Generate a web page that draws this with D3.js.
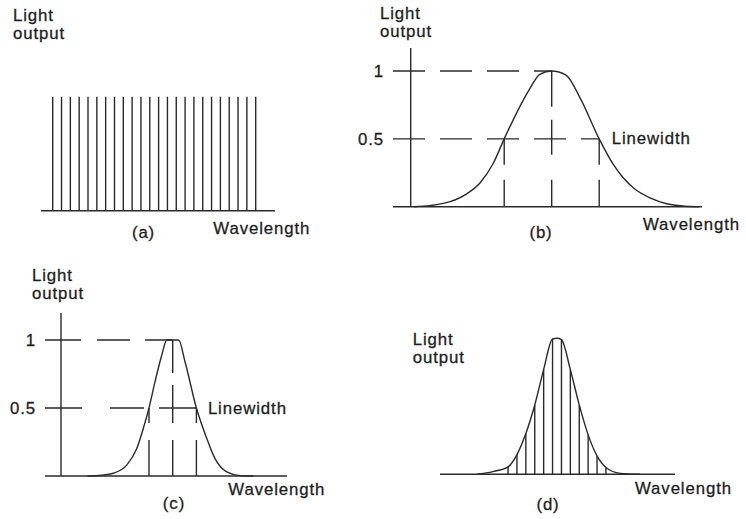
<!DOCTYPE html>
<html>
<head>
<meta charset="utf-8">
<script src="https://cdn.jsdelivr.net/npm/d3@7"></script>
<style>
  html, body { margin: 0; padding: 0; background: #fff; }
  svg { display: block; }
  text { font-family: "Liberation Sans", Arial, Helvetica, sans-serif; font-size: 16.8px; letter-spacing: 0.9px; fill: #1e1e1e; stroke: #1e1e1e; stroke-width: 0.3px; }
  .ink { stroke: #2a2a2a; stroke-width: 1.4; fill: none; }
</style>
</head>
<body>
<svg id="chart" width="746" height="519"></svg>
<script>
// (a) multimode spectrum: mode index and relative output of each mode
const modesA = [0, 1, 2, 3, 4, 5, 6, 7, 8, 9, 10, 11, 12, 13, 14, 15, 16, 17, 18, 19, 20, 21, 22, 23];
const outputA = [1, 1, 1, 1, 1, 1, 1, 1, 1, 1, 1, 1, 1, 1, 1, 1, 1, 1, 1, 1, 1, 1, 1, 1];

// (b) broad line profile; wavelength in half-linewidth units from line centre
const wavelengthB = [-2.9, -2.56, -2.14, -1.79, -1.51, -1.23, -1.0, -0.74, -0.46, -0.25, 0, 0.3, 0.6, 1.0, 1.29, 1.5, 1.75, 2.07, 2.42, 2.75, 3.1];
const outputB =     [0, 0.008, 0.037, 0.095, 0.175, 0.32, 0.5, 0.69, 0.87, 0.975, 1, 0.97, 0.8, 0.5, 0.315, 0.215, 0.13, 0.065, 0.022, 0.005, 0];

// (c) narrower, flat-topped line profile
const wavelengthC = [-3.6, -3.0, -2.51, -1.94, -1.52, -1.24, -1.0, -0.75, -0.46, -0.25, 0, 0.25, 0.52, 1.0, 1.43, 1.78, 2.28, 2.84, 3.4];
const outputC =     [0, 0.006, 0.02, 0.08, 0.2, 0.35, 0.5, 0.69, 0.89, 1, 1, 1, 0.84, 0.5, 0.28, 0.13, 0.03, 0.003, 0];

// (d) modes under a gain envelope: mode positions and heights
const modesD = [-5.5, -4.5, -3.5, -2.5, -1.5, -0.5, 0.5, 1.5, 2.5, 3.5, 4.5, 5.5];
const outputD = [0.055, 0.145, 0.3, 0.51, 0.77, 0.995, 0.99, 0.77, 0.51, 0.29, 0.135, 0.05];
// envelope tails beyond the outermost modes
const tailD = [[-9.0, 0], [-7.2, 0.02], [0, 1.0], [7.1, 0.007], [9.3, 0]];

// reference levels marked on (b) and (c)
const yTicks = [1, 0.5];
const halfMax = 0.5;
const halfPoints = [-1, 1];

const svg = d3.select("#chart");

function addText(g, x, y, str, anchor, baseline) {
  const t = g.append("text").attr("x", x).attr("y", y).text(str);
  if (anchor) t.attr("text-anchor", anchor);
  if (baseline) t.attr("dominant-baseline", baseline);
  return t;
}

function ylabel(g, x, y) {
  addText(g, x, y, "Light");
  addText(g, x, y + 18, "output");
}

const line = d3.line().curve(d3.curveMonotoneX);

// ---------- (a) ----------
{
  const g = svg.append("g");
  const x = d3.scaleLinear().domain([0, 23]).range([52.7, 255.7]);
  const y = d3.scaleLinear().domain([0, 1]).range([210.7, 96.7]);
  g.append("line").attr("class", "ink").attr("x1", 41).attr("x2", 275).attr("y1", y(0)).attr("y2", y(0));
  g.selectAll(".mode").data(modesA).join("line").attr("class", "ink mode")
    .attr("x1", d => x(d)).attr("x2", d => x(d))
    .attr("y1", y(0)).attr("y2", (d, i) => y(outputA[i]));
  ylabel(g, 13, 21);
  addText(g, 213.3, 233.7, "Wavelength");
  addText(g, 143.5, 238, "(a)", "middle");
}

// ---------- (b) and (c) ----------
function profilePanel(cfg) {
  const g = svg.append("g");
  const x = d3.scaleLinear().domain([-1, 1]).range([cfg.center - cfg.unit, cfg.center + cfg.unit]);
  const y = d3.scaleLinear().domain([0, 1]).range([cfg.baseY, cfg.topY]);

  // axes
  g.append("line").attr("class", "ink").attr("x1", cfg.axisX).attr("x2", cfg.axisX).attr("y1", cfg.axisTop).attr("y2", y(0));
  g.append("line").attr("class", "ink").attr("x1", cfg.tickX).attr("x2", cfg.baseEnd).attr("y1", y(0)).attr("y2", y(0));

  // dashed guides: peak level, half-maximum level, centre and half-width drops
  g.append("line").attr("class", "ink").attr("stroke-dasharray", cfg.dashTop)
    .attr("x1", cfg.tickX).attr("x2", x(0)).attr("y1", y(1)).attr("y2", y(1));
  g.append("line").attr("class", "ink").attr("stroke-dasharray", cfg.dashHalf)
    .attr("x1", cfg.tickX).attr("x2", x(halfPoints[1])).attr("y1", y(halfMax)).attr("y2", y(halfMax));
  g.append("line").attr("class", "ink").attr("stroke-dasharray", cfg.dashCenter)
    .attr("x1", x(0)).attr("x2", x(0)).attr("y1", y(0)).attr("y2", y(1));
  g.selectAll(".hw").data(halfPoints).join("line").attr("class", "ink hw")
    .attr("stroke-dasharray", cfg.dashSide)
    .attr("x1", d => x(d)).attr("x2", d => x(d)).attr("y1", y(0)).attr("y2", y(halfMax));

  // line profile
  const pts = cfg.wl.map((w, i) => [x(w), y(cfg.out[i])]);
  g.append("path").attr("class", "ink").attr("d", line(pts));

  // level labels
  const ax = g.append("g").attr("transform", `translate(${cfg.tickX},0)`)
    .call(d3.axisLeft(y).tickValues(yTicks).tickFormat(d3.format("")).tickSize(0).tickPadding(9));
  ax.select(".domain").remove();
  ax.selectAll("text").attr("font-family", null).attr("font-size", null).attr("fill", null);

  ylabel(g, cfg.labelX, cfg.labelY);
  addText(g, x(halfPoints[1]) + cfg.lwDx, y(halfMax), "Linewidth", null, "central");
  addText(g, cfg.wavX, cfg.wavY, "Wavelength");
  addText(g, cfg.capX, cfg.capY, cfg.cap, "middle");
}

profilePanel({
  wl: wavelengthB, out: outputB,
  center: 551.7, unit: 47.5, baseY: 206.7, topY: 71,
  axisX: 410.7, axisTop: 48, tickX: 393, baseEnd: 702,
  dashTop: "32 15", dashHalf: "32 15", dashCenter: "27 25 35 13 60", dashSide: "27 15 40",
  labelX: 380, labelY: 19, lwDx: 12.5,
  wavX: 643, wavY: 230, capX: 541, capY: 238, cap: "(b)"
});

profilePanel({
  wl: wavelengthC, out: outputC,
  center: 172.7, unit: 23.7, baseY: 476, topY: 340,
  axisX: 61, axisTop: 313, tickX: 45, baseEnd: 287,
  dashTop: "36 16 33 15 40", dashHalf: "37 28 34 15 40", dashCenter: "36 17 38 12 40", dashSide: "36 17 38",
  labelX: 32, labelY: 281, lwDx: 11.5,
  wavX: 228.3, wavY: 495, capX: 174, capY: 509, cap: "(c)"
});

// ---------- (d) ----------
{
  const g = svg.append("g");
  const x = d3.scaleLinear().domain([-1, 1]).range([557 - 8.9, 557 + 8.9]);
  const y = d3.scaleLinear().domain([0, 1]).range([474.3, 338.3]);
  g.append("line").attr("class", "ink").attr("x1", 440).attr("x2", 675).attr("y1", y(0)).attr("y2", y(0));
  g.selectAll(".mode").data(modesD).join("line").attr("class", "ink mode")
    .attr("x1", d => x(d)).attr("x2", d => x(d))
    .attr("y1", y(0)).attr("y2", (d, i) => y(outputD[i]));
  const env = modesD.map((m, i) => [m, outputD[i]]).concat(tailD).sort((a, b) => a[0] - b[0]);
  g.append("path").attr("class", "ink").attr("d", line(env.map(p => [x(p[0]), y(p[1])])));
  ylabel(g, 412.7, 345);
  addText(g, 635, 494, "Wavelength");
  addText(g, 548, 509.5, "(d)", "middle");
}
</script>
</body>
</html>
